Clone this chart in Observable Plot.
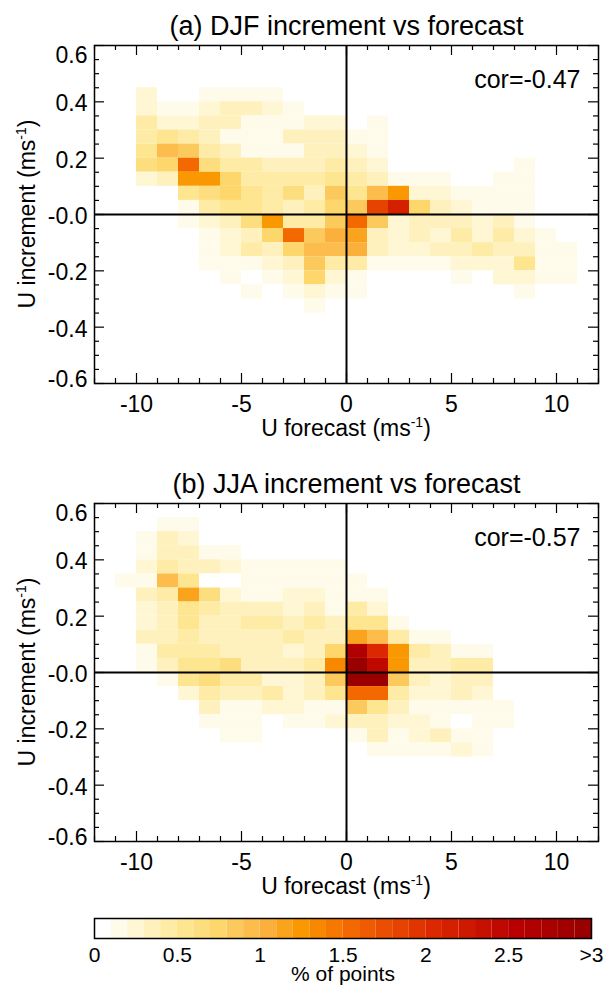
<!DOCTYPE html>
<html><head><meta charset="utf-8">
<script src="https://cdn.jsdelivr.net/npm/d3@7"></script>
<script src="https://cdn.jsdelivr.net/npm/@observablehq/plot@0.6"></script>
<style>body{margin:0;background:#fff;} #chart svg{display:block;}</style>
</head><body><div id="chart"></div>
<script>
// ---- data ----
const xEdges = [-11,-10,-9,-8,-7,-6,-5,-4,-3,-2,-1,0,1,2,3,4,5,6,7,8,9,10]; // left edges of columns (m/s)
const xBinWidth = 1;
const yBinWidth = 0.05;

const djfY = [0.40,0.35,0.30,0.25,0.20,0.15,0.10,0.05,0.00,-0.05,-0.10,-0.15,-0.20,-0.25,-0.30,-0.35];
const djfValues = [
  [0,0.2,0,0,0.1,0.1,0.1,0.1,0,0,0,0,0,0,0,0,0,0,0,0,0,0],
  [0,0.25,0.1,0.1,0.2,0.3,0.3,0.2,0.1,0,0,0,0,0,0,0,0,0,0,0,0,0],
  [0,0.45,0.2,0.2,0.3,0.3,0.15,0.15,0.15,0.2,0.2,0,0.1,0,0,0,0,0,0,0,0,0],
  [0,0.45,0.5,0.4,0.3,0.15,0.15,0.15,0.3,0.3,0.3,0.15,0.1,0,0,0,0,0,0,0,0,0],
  [0,0.5,0.95,0.85,0.4,0.35,0.15,0.15,0.15,0.3,0.35,0.2,0.15,0,0,0,0,0,0,0,0,0],
  [0,0.65,0.7,1.55,0.65,0.45,0.4,0.3,0.3,0.35,0.4,0.35,0.25,0,0,0,0,0,0,0.1,0,0],
  [0,0.25,0.35,1.25,1.25,0.7,0.45,0.4,0.4,0.4,0.5,0.4,0.3,0.15,0.1,0.15,0,0,0.1,0.1,0,0],
  [0,0,0,0.5,0.6,0.75,0.5,0.45,0.6,0.35,0.8,0.5,0.95,1.25,0.2,0.25,0.1,0.1,0.1,0.1,0,0],
  [0,0,0,0.15,0.45,0.5,0.55,0.45,0.35,0.45,0.75,0.85,1.8,2.1,0.7,0.3,0.25,0.15,0.15,0.15,0,0],
  [0,0,0,0.1,0.2,0.3,0.6,1.2,0.45,0.45,0.85,1.5,0.85,0.25,0.3,0.3,0.3,0.2,0.3,0.1,0,0],
  [0,0,0,0,0.1,0.25,0.35,0.7,1.5,0.85,1.0,1.1,0.3,0.25,0.3,0.2,0.45,0.25,0.45,0.2,0.1,0],
  [0,0,0,0,0.1,0.25,0.45,0.35,0.75,0.95,0.9,1.0,0.3,0.2,0.2,0.3,0.3,0.4,0.3,0.3,0.15,0.1],
  [0,0,0,0,0.1,0.1,0.1,0.2,0.3,0.85,0.45,0.4,0.1,0.1,0.1,0.1,0.2,0.2,0.25,0.5,0.15,0.15],
  [0,0,0,0,0,0.1,0.05,0.1,0.25,0.75,0.2,0.15,0,0,0,0,0.15,0,0.25,0.25,0.15,0.15],
  [0,0,0,0,0,0,0.15,0,0.1,0.2,0.15,0.1,0,0,0,0,0,0,0,0.15,0,0],
  [0,0,0,0,0,0,0,0,0,0.15,0,0,0,0,0,0,0,0,0,0,0,0]
];

const jjaY = [0.50,0.45,0.40,0.35,0.30,0.25,0.20,0.15,0.10,0.05,0.00,-0.05,-0.10,-0.15,-0.20,-0.25,-0.30];
const jjaValues = [
  [0,0,0.15,0.15,0,0,0,0,0,0,0,0,0,0,0,0,0,0,0,0,0,0],
  [0,0.1,0.35,0.2,0,0,0,0,0,0,0,0,0,0,0,0,0,0,0,0,0,0],
  [0,0.1,0.35,0.35,0.1,0.1,0,0,0,0,0,0,0,0,0,0,0,0,0,0,0,0],
  [0,0.2,0.4,0.3,0.3,0.2,0.1,0.1,0.1,0.1,0.1,0,0,0,0,0,0,0,0,0,0,0],
  [0.1,0.1,0.95,0.55,0.05,0.05,0.15,0.15,0.15,0.15,0.1,0.1,0,0,0,0,0,0,0,0,0,0],
  [0,0.3,0.45,1.1,0.6,0.25,0.15,0.15,0.25,0.25,0.15,0.15,0.1,0,0,0,0,0,0,0,0,0],
  [0,0.2,0.35,0.5,0.4,0.35,0.3,0.3,0.25,0.35,0.15,0.45,0.2,0,0,0,0,0,0,0,0,0],
  [0,0.2,0.35,0.55,0.35,0.35,0.45,0.4,0.35,0.45,0.35,0.5,0.5,0.1,0,0,0,0,0,0,0,0],
  [0,0.35,0.35,0.45,0.3,0.35,0.3,0.3,0.45,0.3,0.35,1.1,0.95,0.4,0.1,0.1,0,0,0,0,0,0],
  [0,0.1,0.45,0.45,0.4,0.3,0.3,0.3,0.2,0.3,0.7,2.6,2.0,1.2,0.4,0.3,0.1,0.1,0,0,0,0],
  [0,0.1,0.35,0.55,0.55,0.6,0.3,0.3,0.3,0.4,1.3,2.9,2.4,1.2,0.35,0.35,0.4,0.4,0,0,0,0],
  [0,0,0.15,0.5,0.6,0.45,0.4,0.25,0.25,0.3,0.85,3.0,2.9,0.8,0.3,0.2,0.35,0.35,0,0,0,0],
  [0,0,0,0.2,0.4,0.35,0.35,0.4,0.25,0.35,0.5,1.5,1.5,0.4,0.2,0.25,0.3,0.2,0,0,0,0],
  [0,0,0,0,0.3,0.1,0.1,0.2,0.2,0.1,0.1,0.8,0.5,0.3,0.15,0.1,0.1,0.1,0.1,0,0,0],
  [0,0,0,0,0.1,0.1,0.1,0,0.1,0.1,0.25,0.35,0.35,0.25,0.2,0.15,0.05,0.15,0.1,0,0,0],
  [0,0,0,0,0,0.1,0.1,0,0,0,0,0.15,0.3,0.15,0.25,0.3,0.1,0.15,0,0,0,0],
  [0,0,0,0,0,0,0,0,0,0,0,0,0.1,0.1,0.1,0.1,0.2,0.1,0,0,0,0]
];

const panelTitles = ["(a) DJF increment vs forecast", "(b) JJA increment vs forecast"];
const corLabels = ["cor=-0.47", "cor=-0.57"];
const xTickValues = [-10,-5,0,5,10];
const xTickLabels = ["-10","-5","0","5","10"];
const yTickValues = [-0.6,-0.4,-0.2,0,0.2,0.4,0.6];
const yTickLabels = ["-0.6","-0.4","-0.2","-0.0","0.2","0.4","0.6"];
const cbTicks = [0,0.5,1,1.5,2,2.5,3];
const cbLabels = ["0","0.5","1","1.5","2","2.5",">3"];
const cbTitle = "% of points";

// ---- colour scale (30 steps of 0.1) ----
const thresholds = d3.range(1, 30).map(i => i / 10);
const anchorV = [0.05, 0.15, 0.55, 0.75, 1.05, 1.25, 1.55, 2.05, 2.55, 2.95];
const anchorC = ["#ffffff","#fffbea","#fde68f","#fdd66c","#fbb03c","#f99800","#f46800","#dc2800","#b80000","#990000"];
const interp = d3.scaleLinear().domain(anchorV).range(anchorC).interpolate(d3.interpolateRgb).clamp(true);
const colors = d3.range(0, 30).map(i => i === 0 ? "#ffffff" : interp((i + 0.5) / 10));
const colorOpt = {type: "threshold", domain: thresholds, range: colors};

function tidy(ys, rows) {
  const out = [];
  rows.forEach((row, r) => row.forEach((v, c) => { if (v > 0) out.push({x: xEdges[c], y: ys[r], v}); }));
  return out;
}

const FONT = "Liberation Sans, Arial, Helvetica, sans-serif";
const W = 611, ML = 94, MR = 13;
const FW = W - ML - MR, FH = 338;
const TICKFS = 23;

function addLabels(svg, frameTop) {
  const s = d3.select(svg);
  const cx = ML + FW / 2;
  const xl = s.append("text").attr("x", cx).attr("y", frameTop + FH + 53)
    .attr("text-anchor", "middle").attr("font-family", FONT).attr("font-size", 23).attr("fill", "black");
  xl.append("tspan").text("U forecast (ms");
  xl.append("tspan").attr("font-size", 14).attr("dy", -9).text("-1");
  xl.append("tspan").attr("dy", 9).text(")");
  const yl = s.append("text").attr("transform", `translate(35,${frameTop + FH / 2}) rotate(-90)`)
    .attr("text-anchor", "middle").attr("font-family", FONT).attr("font-size", 23).attr("fill", "black");
  yl.append("tspan").text("U increment (ms");
  yl.append("tspan").attr("font-size", 14).attr("dy", -9).text("-1");
  yl.append("tspan").attr("dy", 9).text(")");
}

function panel(ys, rows, title, cor, height, marginTop) {
  const data = tidy(ys, rows);
  const marginBottom = height - marginTop - FH;
  const xMajor = d3.range(-10, 11, 5);
  const xMinor = d3.range(-12, 13).filter(d => d % 5 !== 0);
  const yAll = d3.range(-12, 13).map(i => i / 20);
  const yMajor = yAll.filter((d, i) => (i % 4) === 0);
  const yMinor = yAll.filter((d, i) => (i % 4) !== 0);
  const tk = {stroke: "black", strokeWidth: 1.2};
  const yFmt = d => yTickLabels[yTickValues.indexOf(d)];
  const yAxisOpt = {tickSize: 0, tickPadding: 7, fontSize: TICKFS, label: null, tickFormat: yFmt};
  const svg = Plot.plot({
    width: W, height, marginLeft: ML, marginRight: MR, marginTop, marginBottom,
    style: {fontFamily: FONT, background: "white", color: "black"},
    x: {domain: [-12, 12]},
    y: {domain: [-0.6, 0.6]},
    color: colorOpt,
    marks: [
      Plot.rect(data, {x1: "x", x2: d => d.x + xBinWidth, y1: "y", y2: d => d.y + yBinWidth, fill: "v"}),
      Plot.ruleX([0], {stroke: "black", strokeWidth: 2}),
      Plot.ruleY([0], {stroke: "black", strokeWidth: 2}),
      Plot.tickX(xMinor, {x: d => d, insetTop: FH - 5, ...tk}),
      Plot.tickX(xMinor, {x: d => d, insetBottom: FH - 5, ...tk}),
      Plot.tickX(xMajor, {x: d => d, insetTop: FH - 10, ...tk}),
      Plot.tickX(xMajor, {x: d => d, insetBottom: FH - 10, ...tk}),
      Plot.tickY(yMinor, {y: d => d, insetRight: FW - 5, ...tk}),
      Plot.tickY(yMinor, {y: d => d, insetLeft: FW - 5, ...tk}),
      Plot.tickY(yMajor, {y: d => d, insetRight: FW - 10, ...tk}),
      Plot.tickY(yMajor, {y: d => d, insetLeft: FW - 10, ...tk}),
      Plot.frame({stroke: "black", strokeWidth: 1.5}),
      Plot.axisX(xTickValues, {tickSize: 0, tickPadding: 12, fontSize: TICKFS, label: null,
        tickFormat: d => xTickLabels[xTickValues.indexOf(d)]}),
      Plot.axisY(yTickValues.slice(1, -1), {...yAxisOpt, dy: 2}),
      Plot.axisY([yTickValues[yTickValues.length - 1]], {...yAxisOpt, dy: 10}),
      Plot.axisY([yTickValues[0]], {...yAxisOpt, dy: -4}),
      Plot.text([title], {frameAnchor: "top", lineAnchor: "middle", dy: -19, fontSize: 27, text: d => d}),
      Plot.text([cor], {frameAnchor: "top-right", lineAnchor: "middle", dx: -18, dy: 34, fontSize: 25, textAnchor: "end", text: d => d})
    ]
  });
  addLabels(svg, marginTop);
  return svg;
}

const root = document.getElementById("chart");
root.appendChild(panel(djfY, djfValues, panelTitles[0], corLabels[0], 458, 45));
root.appendChild(panel(jjaY, jjaValues, panelTitles[1], corLabels[1], 452, 45));

const cbBins = d3.range(0, 30).map(i => i / 10);
root.appendChild(Plot.plot({
  width: W, height: 76, marginLeft: 94, marginRight: 20, marginTop: 8, marginBottom: 48,
  style: {fontFamily: FONT, background: "white", color: "black"},
  x: {domain: [0, 3]},
  color: colorOpt,
  marks: [
    Plot.rect(cbBins, {x1: d => d, x2: d => d + 0.1, fill: d => d + 0.05}),
    Plot.frame({stroke: "black", strokeWidth: 1.5}),
    Plot.axisX(cbTicks, {tickSize: 0, tickPadding: 9, fontSize: 21, label: null,
      tickFormat: d => cbLabels[cbTicks.indexOf(d)]}),
    Plot.text([cbTitle], {frameAnchor: "bottom", lineAnchor: "middle", dy: 36, fontSize: 21, text: d => d})
  ]
}));
</script>
</body></html>
